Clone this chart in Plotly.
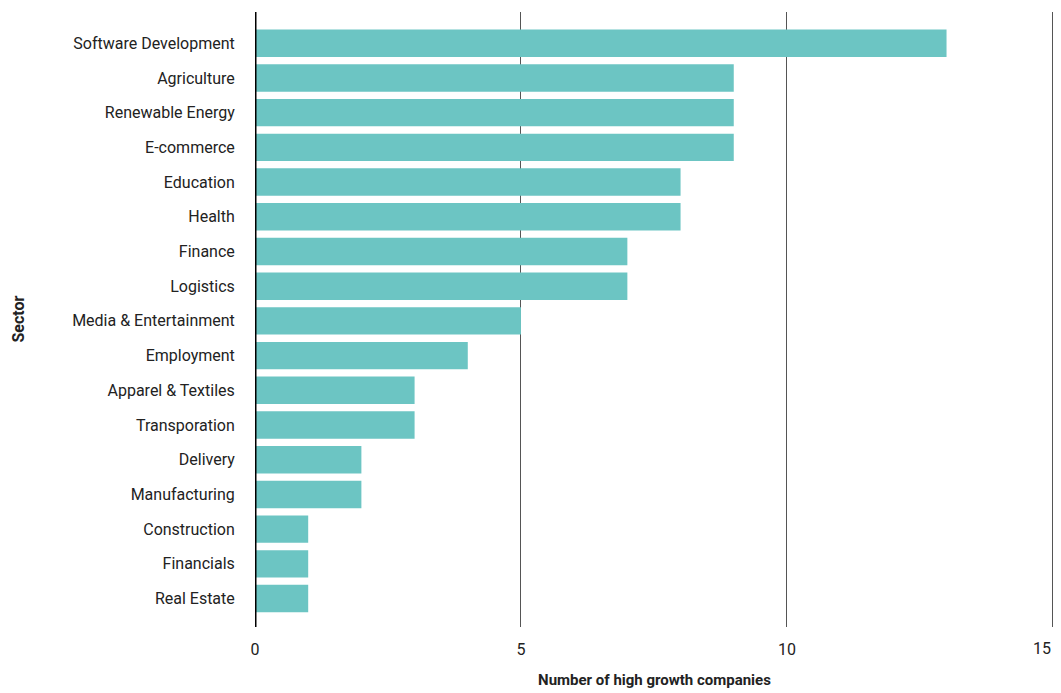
import plotly.graph_objects as go

sectors = [
    "Software Development", "Agriculture", "Renewable Energy", "E-commerce",
    "Education", "Health", "Finance", "Logistics", "Media & Entertainment",
    "Employment", "Apparel & Textiles", "Transporation", "Delivery",
    "Manufacturing", "Construction", "Financials", "Real Estate",
]
companies = [13, 9, 9, 9, 8, 8, 7, 7, 5, 4, 3, 3, 2, 2, 1, 1, 1]
x_ticks = [0, 5, 10, 15]

fig = go.Figure(
    go.Bar(
        x=companies,
        y=sectors,
        orientation="h",
        marker=dict(color="#6cc5c3", line=dict(width=0)),
        hovertemplate="%{y}: %{x}<extra></extra>",
    )
)

fig.update_layout(
    width=1061,
    height=693,
    margin=dict(l=255, r=7, t=12, b=63),
    paper_bgcolor="white",
    plot_bgcolor="white",
    bargap=0.21,
    font=dict(family="Roboto", size=16, color="#222"),
    showlegend=False,
)

# The last tick label sits at the right edge, so it is drawn separately
# and nudged inward to stay inside the page.
tick_text = [str(v) for v in x_ticks[:-1]] + [""]

fig.update_xaxes(
    range=[0, 15.02],
    tickvals=x_ticks,
    ticktext=tick_text,
    showgrid=True,
    gridcolor="#555",
    gridwidth=1,
    zeroline=False,
    showline=False,
    ticks="outside",
    ticklen=8,
    tickcolor="rgba(0,0,0,0)",
    tickfont=dict(size=16, color="#222"),
    title=dict(
        text="<b>Number of high growth companies</b>",
        font=dict(size=15, color="#222"),
        standoff=16,
    ),
)

fig.add_annotation(
    text=str(x_ticks[-1]),
    xref="x", yref="paper",
    x=x_ticks[-1], y=0,
    xanchor="right", yanchor="top",
    yshift=-10,
    showarrow=False,
    font=dict(size=16, color="#222"),
)

fig.update_yaxes(
    type="category",
    categoryorder="array",
    categoryarray=sectors,
    range=[16.82, -0.9],
    showgrid=False,
    zeroline=False,
    showline=False,
    ticks="outside",
    ticklen=16,
    tickcolor="rgba(0,0,0,0)",
    tickfont=dict(size=16, color="#222"),
)

# Vertical axis title placed at the far left edge
fig.add_annotation(
    text="<b>Sector</b>",
    xref="paper", yref="paper",
    x=-255 / 799 + 18 / 799, y=0.5,
    xanchor="center", yanchor="middle",
    textangle=-90,
    showarrow=False,
    font=dict(size=16, color="#222"),
)

# Heavy baseline at zero
fig.add_shape(
    type="line", xref="x", yref="paper",
    x0=0, x1=0, y0=0, y1=1,
    line=dict(color="black", width=3),
    layer="above",
)

fig.write_html("out.html")
